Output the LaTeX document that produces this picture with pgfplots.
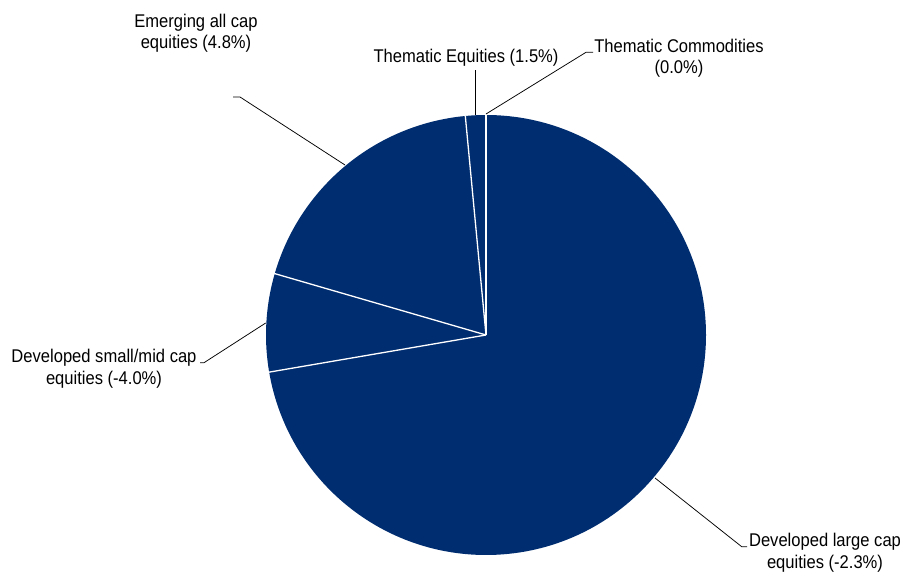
\documentclass[border=0pt]{standalone}
\usepackage{pgfplots}
\pgfplotsset{compat=1.18}
\usepackage{fontspec}
\setmainfont{Liberation Sans}[FakeStretch=0.9]
\definecolor{navy}{RGB}{0,45,112}
\begin{document}
\fontsize{18.4bp}{21bp}\selectfont
\begin{tikzpicture}
% slice shares in percent: large cap, small/mid, emerging, thematic equities, thematic commodities
\pgfmathsetmacro\aA{90}
\pgfmathsetmacro\aB{\aA-3.6*72.3}
\pgfmathsetmacro\aC{\aB-3.6*7.2}
\pgfmathsetmacro\aD{\aC-3.6*19.0}
\pgfmathsetmacro\aE{\aD-3.6*1.5}
\pgfmathsetmacro\aF{\aE-3.6*0.0}
\begin{axis}[
  width=912bp, height=576bp, scale only axis,
  xmin=0, xmax=912, ymin=0, ymax=576,
  hide axis, clip=false]
\path (axis cs:0,0) rectangle (axis cs:912,576);
% slices
\fill[navy] (axis cs:486,241) -- ++(\aA:220bp) arc[start angle=\aA, end angle=\aB, radius=220bp] -- cycle;
\fill[navy] (axis cs:486,241) -- ++(\aB:220bp) arc[start angle=\aB, end angle=\aC, radius=220bp] -- cycle;
\fill[navy] (axis cs:486,241) -- ++(\aC:220bp) arc[start angle=\aC, end angle=\aD, radius=220bp] -- cycle;
\fill[navy] (axis cs:486,241) -- ++(\aD:220bp) arc[start angle=\aD, end angle=\aE, radius=220bp] -- cycle;
% white separators
\draw[white, line width=1.3bp] (axis cs:486,241) -- ++(\aA:220.5bp);
\draw[white, line width=1.3bp] (axis cs:486,241) -- ++(\aB:220.5bp);
\draw[white, line width=1.3bp] (axis cs:486,241) -- ++(\aC:220.5bp);
\draw[white, line width=1.3bp] (axis cs:486,241) -- ++(\aD:220.5bp);
% leader lines
\draw[black, line width=0.75bp] (axis cs:345,411) -- (axis cs:240,479) -- (axis cs:233,479);
\draw[black, line width=0.75bp] (axis cs:475.7,461) -- (axis cs:475.7,506);
\draw[black, line width=0.75bp] (axis cs:486,462) -- (axis cs:586,523.7) -- (axis cs:593,523.7);
\draw[black, line width=0.75bp] (axis cs:265.7,253) -- (axis cs:204,213.3) -- (axis cs:200,213.3);
\draw[black, line width=0.75bp] (axis cs:655,98) -- (axis cs:741.7,29.3) -- (axis cs:747,29.3);
% labels
\node[anchor=base, inner sep=0pt] at (axis cs:196,548) {Emerging all cap};
\node[anchor=base, inner sep=0pt] at (axis cs:196,527) {equities (4.8\%)};
\node[anchor=base, inner sep=0pt] at (axis cs:466,513) {Thematic Equities (1.5\%)};
\node[anchor=base, inner sep=0pt] at (axis cs:679,523.7) {Thematic Commodities};
\node[anchor=base, inner sep=0pt] at (axis cs:679,502.7) {(0.0\%)};
\node[anchor=base, inner sep=0pt] at (axis cs:104,213) {Developed small/mid cap};
\node[anchor=base, inner sep=0pt] at (axis cs:104,191) {equities (-4.0\%)};
\node[anchor=base, inner sep=0pt] at (axis cs:825,29.3) {Developed large cap};
\node[anchor=base, inner sep=0pt] at (axis cs:825,8) {equities (-2.3\%)};
\end{axis}
\end{tikzpicture}
\end{document}
